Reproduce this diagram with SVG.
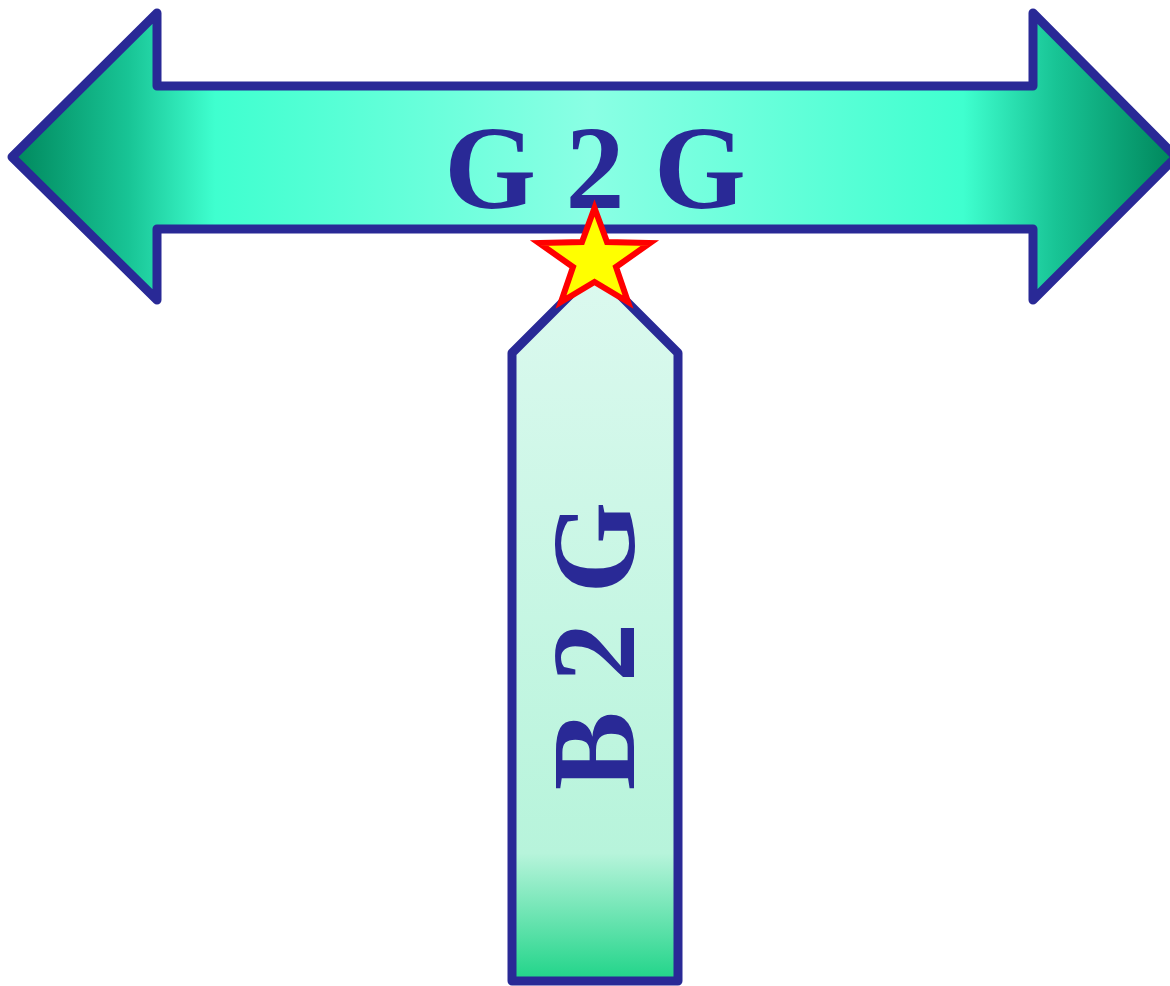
<svg xmlns="http://www.w3.org/2000/svg" width="1170" height="986" viewBox="0 0 1170 986">
  <defs>
    <linearGradient id="gH" gradientUnits="userSpaceOnUse" x1="12" y1="0" x2="1172" y2="0">
      <stop offset="0" stop-color="#00875c"/>
      <stop offset="0.1" stop-color="#18c495"/>
      <stop offset="0.175" stop-color="#3fffcf"/>
      <stop offset="0.5" stop-color="#8affe4"/>
      <stop offset="0.82" stop-color="#3fffcf"/>
      <stop offset="0.9" stop-color="#18c495"/>
      <stop offset="1" stop-color="#00875c"/>
    </linearGradient>
    <linearGradient id="gV" gradientUnits="userSpaceOnUse" x1="0" y1="270" x2="0" y2="981">
      <stop offset="0" stop-color="#dcf9ef"/>
      <stop offset="0.82" stop-color="#b7f4db"/>
      <stop offset="1" stop-color="#1fd488"/>
    </linearGradient>
    <style>
      .arrow { stroke: #292996; stroke-width: 9; stroke-linejoin: round; }
      .lbl { font-family: "Liberation Serif", "Times New Roman", serif; font-weight: bold; font-size: 118px; fill: #292996; text-anchor: middle; }
    </style>
  </defs>
  <g id="b2g">
    <path class="arrow" fill="url(#gV)" d="M595,270 L678,353 L678,981 L512,981 L512,353 Z"/>
    <text class="lbl" transform="translate(634,646) rotate(-90)" x="0" y="0">B 2 G</text>
  </g>
  <g id="g2g">
    <path class="arrow" fill="url(#gH)" d="M12,157 L157,13 L157,86 L1033,86 L1033,13 L1176,157 L1033,300 L1033,229 L157,229 L157,300 Z"/>
    <text class="lbl" x="595" y="208">G 2 G</text>
  </g>
  <g id="star">
    <polygon fill="#ffff00" stroke="#ff0000" stroke-width="6" points="594.5,208 582,242 539,243 573,267 561,302 594.5,282 628,302 616,267 650,243 607,242"/>
  </g>
  <g id="connectors"/>
</svg>
